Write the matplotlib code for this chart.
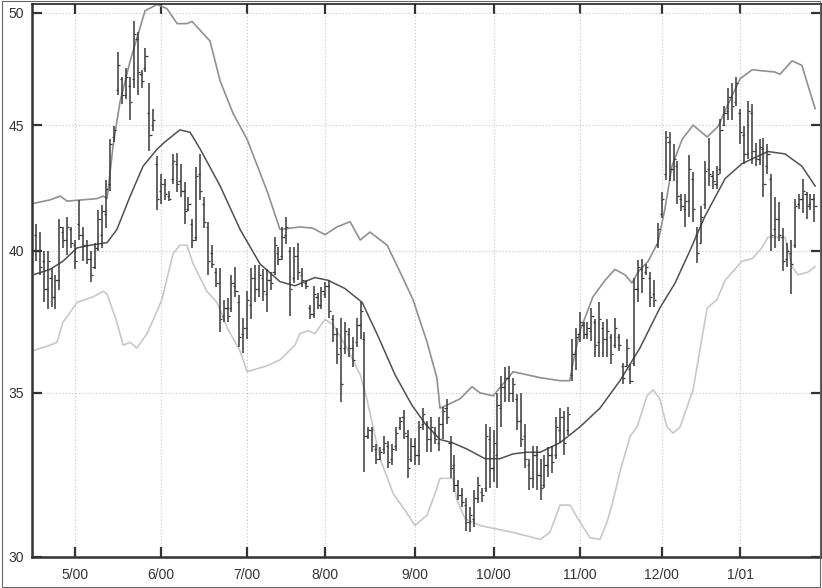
import numpy as np
import matplotlib
matplotlib.use("Agg")
import matplotlib.pyplot as plt
from matplotlib.patches import Rectangle
from matplotlib.ticker import FixedLocator, NullLocator, FixedFormatter

plt.rcParams['font.family'] = ['Liberation Sans', 'DejaVu Sans']

# daily bars, trading days counted from 1 May 2000 (first bar is 10 days before)
first_day = -10
highs = [41.0, 40.7, 40.0, 40.0, 39.35, 39.1, 41.2, 40.9, 41.3, 40.9,
         40.4, 41.95, 40.9, 40.4, 40.0, 40.3, 41.55, 41.75, 42.75, 44.4,
         44.95, 48.2, 47.1, 47.5, 47.1, 49.6, 49.1, 47.4, 48.4, 46.8,
         45.7, 43.7, 43.0, 42.8, 42.3, 43.8, 43.85, 43.4, 42.65, 42.05,
         41.2, 43.25, 43.8, 42.05, 41.1, 40.2, 39.35, 39.35, 38.2, 38.25,
         39.1, 39.4, 38.35, 37.55, 38.5, 39.35, 39.45, 39.45, 39.3, 39.3,
         39.2, 40.5, 40.15, 40.9, 41.3, 40.15, 40.15, 40.3, 39.35, 38.9,
         38.0, 38.7, 38.45, 38.65, 38.85, 38.9, 37.65, 37.2, 37.55, 37.4,
         37.2, 36.9, 37.55, 38.1, 37.05, 33.9, 33.9, 33.35, 33.25, 33.6,
         33.45, 33.35, 33.9, 34.2, 34.45, 33.8, 33.55, 33.55, 34.1, 34.5,
         34.1, 34.2, 33.9, 34.2, 34.55, 34.8, 33.6, 33.0, 32.25, 32.0,
         31.7, 31.45, 31.95, 32.35, 32.0, 34.0, 33.9, 33.8, 35.0, 35.55,
         35.85, 35.9, 35.5, 34.95, 35.0, 34.0, 32.9, 33.3, 33.3, 32.9,
         33.0, 33.25, 33.3, 34.2, 34.5, 34.4, 34.55, 36.8, 37.2, 37.75,
         37.4, 37.4, 37.9, 37.5, 38.1, 37.4, 37.5, 37.0, 37.55, 37.0,
         36.0, 36.8, 35.95, 39.0, 39.65, 39.7, 39.5, 39.2, 38.9, 41.05,
         42.25, 44.75, 44.7, 44.2, 43.5, 42.2, 42.2, 43.75, 43.05, 40.9,
         41.7, 43.5, 44.45, 43.1, 43.3, 45.25, 45.8, 46.6, 46.8, 47.1,
         45.7, 44.95, 46.05, 45.9, 44.25, 44.4, 44.45, 44.2, 43.0, 42.05,
         41.85, 40.85, 40.3, 40.4, 42.0, 42.2, 42.8, 42.25, 42.2, 42.2]
lows = [39.6, 39.1, 38.1, 37.85, 37.95, 37.85, 38.55, 40.1, 39.85, 40.1,
        39.3, 40.4, 39.6, 39.5, 38.85, 39.3, 40.0, 40.1, 40.85, 42.3,
        44.3, 46.3, 45.9, 46.1, 45.2, 46.6, 46.3, 46.6, 47.3, 43.9,
        44.75, 41.55, 41.8, 41.95, 41.9, 42.6, 42.25, 42.05, 41.0, 41.5,
        40.1, 40.35, 41.95, 40.85, 39.1, 39.35, 38.65, 37.05, 37.4, 37.4,
        37.75, 38.3, 36.55, 36.35, 36.8, 37.5, 38.1, 38.3, 38.15, 37.75,
        38.55, 39.1, 39.45, 39.65, 40.25, 37.6, 38.8, 38.9, 38.65, 38.6,
        37.5, 37.55, 37.85, 37.85, 38.25, 37.55, 36.7, 35.95, 34.7, 36.3,
        36.2, 35.85, 36.55, 36.8, 32.5, 33.5, 33.1, 32.75, 32.85, 33.05,
        32.6, 32.7, 33.15, 33.8, 33.5, 32.3, 32.8, 32.7, 32.7, 33.8,
        33.1, 33.1, 33.35, 33.15, 33.5, 34.0, 32.3, 31.9, 31.65, 31.45,
        30.75, 30.7, 30.85, 31.55, 31.6, 31.9, 32.0, 32.2, 32.0, 33.9,
        34.7, 34.7, 34.7, 33.8, 33.25, 32.6, 31.95, 32.0, 31.95, 31.65,
        32.0, 32.35, 32.45, 32.9, 33.4, 33.0, 33.65, 35.4, 35.75, 36.7,
        36.8, 36.8, 36.75, 36.2, 36.2, 36.2, 36.2, 35.95, 36.5, 36.4,
        35.3, 35.9, 35.3, 35.9, 38.1, 38.45, 39.1, 37.95, 37.95, 40.1,
        41.25, 42.75, 42.7, 42.7, 41.8, 41.5, 40.9, 41.3, 41.1, 39.55,
        40.3, 41.6, 42.5, 42.4, 42.4, 43.0, 44.95, 45.2, 45.2, 45.8,
        44.2, 43.4, 43.6, 43.4, 43.3, 43.35, 42.05, 43.0, 40.0, 40.1,
        40.35, 39.25, 39.4, 38.4, 40.1, 41.6, 41.45, 41.2, 41.55, 41.1]
opens = [40.6, 40.0, 39.6, 38.6, 39.0, 38.3, 38.9, 40.7, 40.4, 40.8,
         40.2, 41.0, 40.6, 40.2, 39.7, 39.4, 40.1, 40.6, 41.4, 42.6,
         44.5, 46.5, 47.0, 46.3, 46.7, 47.0, 48.8, 47.2, 47.5, 45.5,
         45.0, 43.4, 42.3, 42.6, 42.1, 42.8, 43.4, 42.7, 42.3, 41.6,
         41.0, 40.5, 43.0, 41.8, 40.9, 39.9, 39.2, 38.8, 37.6, 37.9,
         37.9, 38.7, 38.1, 37.0, 37.2, 38.0, 39.0, 38.6, 39.0, 38.4,
         38.9, 39.2, 39.9, 39.8, 40.6, 40.0, 39.0, 39.8, 39.1, 38.8,
         37.9, 37.7, 38.3, 38.0, 38.4, 38.7, 37.5, 37.0, 36.5, 36.5,
         37.0, 36.5, 36.7, 37.3, 36.8, 33.6, 33.8, 33.2, 32.9, 33.2,
         33.3, 32.9, 33.3, 33.9, 34.2, 33.6, 32.9, 33.3, 33.0, 34.0,
         34.0, 33.5, 33.7, 33.4, 34.0, 34.5, 33.4, 32.7, 32.1, 31.8,
         31.5, 31.0, 31.1, 31.7, 31.9, 32.0, 33.5, 32.6, 33.0, 34.5,
         35.2, 35.5, 35.0, 34.8, 34.1, 33.6, 32.7, 32.3, 33.0, 32.4,
         32.1, 32.7, 33.0, 33.0, 33.8, 34.2, 33.8, 35.6, 36.3, 37.0,
         37.3, 37.0, 37.1, 37.4, 36.7, 37.2, 36.8, 36.9, 36.6, 36.9,
         35.9, 35.9, 35.8, 36.0, 38.6, 39.3, 39.2, 39.0, 38.4, 40.2,
         41.4, 43.0, 44.3, 43.2, 43.3, 42.0, 41.6, 41.9, 42.8, 40.6,
         40.3, 41.8, 43.2, 42.9, 42.6, 43.2, 45.0, 45.6, 46.2, 46.0,
         45.5, 44.6, 43.8, 45.5, 43.9, 43.6, 44.0, 43.3, 42.8, 40.8,
         41.2, 40.5, 39.7, 39.9, 40.2, 41.8, 42.0, 42.2, 41.8, 42.0]
closes = [40.0, 39.4, 38.6, 39.6, 38.3, 38.9, 40.9, 40.4, 40.9, 40.3,
          39.6, 40.6, 40.2, 39.7, 39.1, 40.1, 41.2, 41.5, 42.4, 44.2,
          44.8, 47.6, 46.3, 47.1, 46.0, 49.0, 47.3, 46.9, 48.0, 44.6,
          45.2, 42.0, 42.6, 42.2, 42.0, 43.5, 42.6, 42.3, 41.5, 41.8,
          40.4, 42.9, 42.3, 41.1, 39.6, 39.5, 38.8, 37.5, 37.9, 37.6,
          38.8, 38.5, 36.9, 37.2, 38.2, 39.0, 38.6, 39.1, 38.5, 38.9,
          38.8, 40.2, 39.7, 40.5, 40.9, 38.6, 39.8, 39.2, 38.9, 38.7,
          37.7, 38.4, 38.0, 38.5, 38.7, 37.8, 37.0, 36.3, 35.3, 37.1,
          36.5, 36.1, 37.3, 37.8, 33.6, 33.8, 33.3, 32.9, 33.1, 33.4,
          32.8, 33.2, 33.7, 34.1, 33.7, 32.6, 33.3, 33.0, 33.9, 34.3,
          33.5, 33.9, 33.5, 34.0, 34.4, 34.2, 32.6, 32.1, 31.8, 31.6,
          31.0, 31.2, 31.7, 32.1, 31.8, 33.6, 32.6, 33.4, 34.6, 35.2,
          35.5, 35.0, 35.3, 34.1, 33.5, 32.9, 32.3, 33.0, 32.4, 32.0,
          32.7, 33.0, 32.8, 33.9, 34.2, 33.4, 34.3, 36.3, 36.9, 37.4,
          37.0, 37.2, 37.6, 36.6, 37.5, 36.8, 37.1, 36.3, 37.2, 36.6,
          35.5, 36.5, 35.4, 38.6, 39.4, 39.0, 39.4, 38.3, 38.2, 40.8,
          42.0, 44.5, 43.2, 43.6, 42.1, 41.7, 41.9, 43.2, 41.6, 39.9,
          41.3, 43.1, 43.0, 42.7, 43.0, 44.8, 45.5, 46.2, 45.8, 46.8,
          44.7, 43.8, 45.6, 43.9, 43.6, 44.1, 42.6, 43.8, 40.6, 41.2,
          40.6, 39.6, 40.0, 39.5, 41.7, 42.0, 42.3, 41.7, 42.0, 41.7]

# moving average and bands (trading day, price)
ma_day = [-10.7, -6.4, -3.1, 0.5, 3.8, 8.2, 10.7, 14.1, 17.4, 21.0, 23.0, 26.8,
          29.4, 32.0, 37.1, 42.2, 47.3, 52.4, 56.2, 61.3, 64.7, 69.0, 73.4,
          77.5, 81.8, 86.1, 89.5, 93.3, 96.4, 100.2, 104.8, 108.6, 112.0,
          115.5, 118.9, 124.0, 129.1, 134.2, 139.3, 144.4, 149.5, 153.4,
          157.2, 161.0, 166.2, 170.5, 177.1, 181.5, 185.8, 189.2]
ma_val = [39.1, 39.3, 39.6, 40.1, 40.2, 40.3, 40.8, 42.1, 43.3, 44.0, 44.3, 44.8,
          44.7, 44.0, 42.5, 40.8, 39.5, 38.85, 38.7, 39.0, 38.9, 38.6, 38.1,
          36.9, 35.6, 34.6, 34.0, 33.5, 33.4, 33.2, 32.9, 32.9, 33.05,
          33.1, 33.1, 33.4, 33.9, 34.5, 35.4, 36.5, 37.9, 38.8,
          40.0, 41.3, 42.8, 43.4, 43.9, 43.8, 43.3, 42.5]

up_day = [-11.0, -6.4, -3.8, -2.0, 5.6, 7.2, 8.2, 9.7, 11.5, 14.1, 17.9, 21.0,
          23.5, 26.1, 28.6, 29.9, 34.5, 37.1, 40.4, 44.0, 49.1, 52.4, 57.5,
          60.8, 63.9, 67.0, 70.3, 72.9, 75.4, 79.8, 83.1, 86.4, 90.0, 92.5,
          93.3, 95.1, 98.4, 101.5, 103.5, 106.9, 112.0, 118.9, 124.0, 126.5,
          127.3, 129.1, 132.4, 135.5, 138.0, 140.6, 142.4, 143.9, 146.5,
          149.0, 150.8, 152.6, 155.2, 158.0, 161.6, 164.4, 166.7, 170.0,
          173.1, 178.9, 180.2, 183.3, 185.8, 189.2]
up_val = [41.8, 41.95, 42.1, 41.9, 42.0, 42.1, 42.0, 44.1, 46.0, 47.8, 50.1, 50.4,
          50.2, 49.5, 49.5, 49.6, 48.7, 46.9, 45.5, 44.4, 42.3, 40.8, 40.9,
          40.85, 40.6, 40.9, 41.1, 40.4, 40.7, 40.2, 39.2, 38.2, 36.7, 35.5,
          34.5, 34.6, 34.8, 35.2, 35.0, 34.9, 35.7, 35.5, 35.4, 35.4,
          36.0, 37.1, 38.3, 38.9, 39.3, 39.1, 38.8, 39.2, 39.6,
          40.3, 41.6, 43.3, 44.4, 45.0, 44.5, 44.95, 45.8, 47.0,
          47.4, 47.3, 47.2, 47.8, 47.6, 45.7]

lo_day = [-11.0, -6.4, -4.6, -3.1, -2.0, 0.5, 4.6, 7.2, 8.2, 10.7, 12.3, 14.1,
          15.8, 18.4, 21.0, 22.2, 25.1, 26.8, 28.6, 30.2, 33.7, 36.3, 38.9,
          42.2, 44.0, 49.1, 52.4, 56.2, 57.5, 59.6, 61.3, 63.9, 66.0, 69.5,
          72.9, 74.6, 78.0, 81.3, 84.9, 86.9, 90.0, 92.5, 93.3, 96.6, 97.6,
          99.7, 103.5, 112.0, 118.9, 121.4, 124.0, 126.5, 129.1, 131.6,
          134.2, 136.0, 137.5, 139.3, 141.9, 143.7, 146.2, 147.8, 149.5,
          151.3, 152.9, 154.7, 158.0, 161.6, 164.1, 166.2, 170.5, 173.1,
          175.6, 177.1, 181.5, 183.3, 184.8, 187.4, 189.2]
lo_val = [36.4, 36.6, 36.7, 37.4, 37.6, 38.1, 38.3, 38.5, 38.4, 37.4, 36.6, 36.7,
          36.5, 37.0, 37.8, 38.2, 39.9, 40.2, 40.2, 39.5, 38.5, 38.1, 37.2,
          36.4, 35.7, 35.9, 36.1, 36.6, 37.0, 37.1, 37.0, 37.5, 37.3, 36.5,
          35.6, 34.8, 32.9, 31.85, 31.25, 30.9, 31.2, 32.0, 32.3, 32.3, 31.65,
          31.1, 30.9, 30.7, 30.5, 30.7, 31.5, 31.5, 31.0, 30.55,
          30.5, 31.0, 31.6, 32.5, 33.6, 33.9, 34.9, 35.1, 34.8,
          33.9, 33.7, 33.9, 35.1, 37.9, 38.2, 38.9, 39.6, 39.7,
          40.1, 40.5, 40.5, 39.4, 39.1, 39.2, 39.4]

month_starts = [0, 22, 44, 64, 87, 107, 129, 150, 170]
month_labels = ['5/00', '6/00', '7/00', '8/00', '9/00', '10/00', '11/00', '12/00', '1/01']
price_ticks = [30, 35, 40, 45, 50]

day = np.arange(len(highs)) + first_day

fig = plt.figure(figsize=(8.22, 5.88), dpi=100)
ax = fig.add_axes([32 / 822, 31 / 588, 789 / 822, 553 / 588])

ax.plot(lo_day, lo_val, color='#c8c8c8', lw=1.2, zorder=2)
ax.plot(up_day, up_val, color='#909090', lw=1.2, zorder=2)
ax.plot(ma_day, ma_val, color='#505050', lw=1.1, zorder=3)

bar_col = '#383838'
ax.vlines(day, lows, highs, color=bar_col, lw=1.1, zorder=4)
ax.hlines(opens, day - 0.55, day, color=bar_col, lw=0.9, zorder=4)
ax.hlines(closes, day, day + 0.55, color=bar_col, lw=0.9, zorder=4)

ax.set_yscale('log')
ax.set_ylim(30, 50.42)
ax.set_xlim(-11, 190.7)
ax.yaxis.set_major_locator(FixedLocator(price_ticks))
ax.yaxis.set_major_formatter(FixedFormatter([str(p) for p in price_ticks]))
ax.yaxis.set_minor_locator(NullLocator())
ax.set_xticks(month_starts)
ax.set_xticklabels(month_labels)

ax.grid(True, which='major', linestyle=(0, (1, 2)), color='#c4c4c4', lw=0.8, zorder=0)
ax.tick_params(axis='both', direction='in', length=7, width=1.6, colors='#333333',
               labelsize=10, top=True, right=True)
ax.tick_params(axis='y', pad=6)
ax.tick_params(axis='x', pad=8)
for side in ['left', 'bottom']:
    ax.spines[side].set_linewidth(1.8)
    ax.spines[side].set_color('#333333')
for side in ['top', 'right']:
    ax.spines[side].set_linewidth(1.2)
    ax.spines[side].set_color('#222222')

fig.patches.append(Rectangle((0.002, 0.002), 0.996, 0.996, transform=fig.transFigure,
                             fill=False, edgecolor='#666666', lw=0.8))

fig.savefig('out.png', dpi=100)
